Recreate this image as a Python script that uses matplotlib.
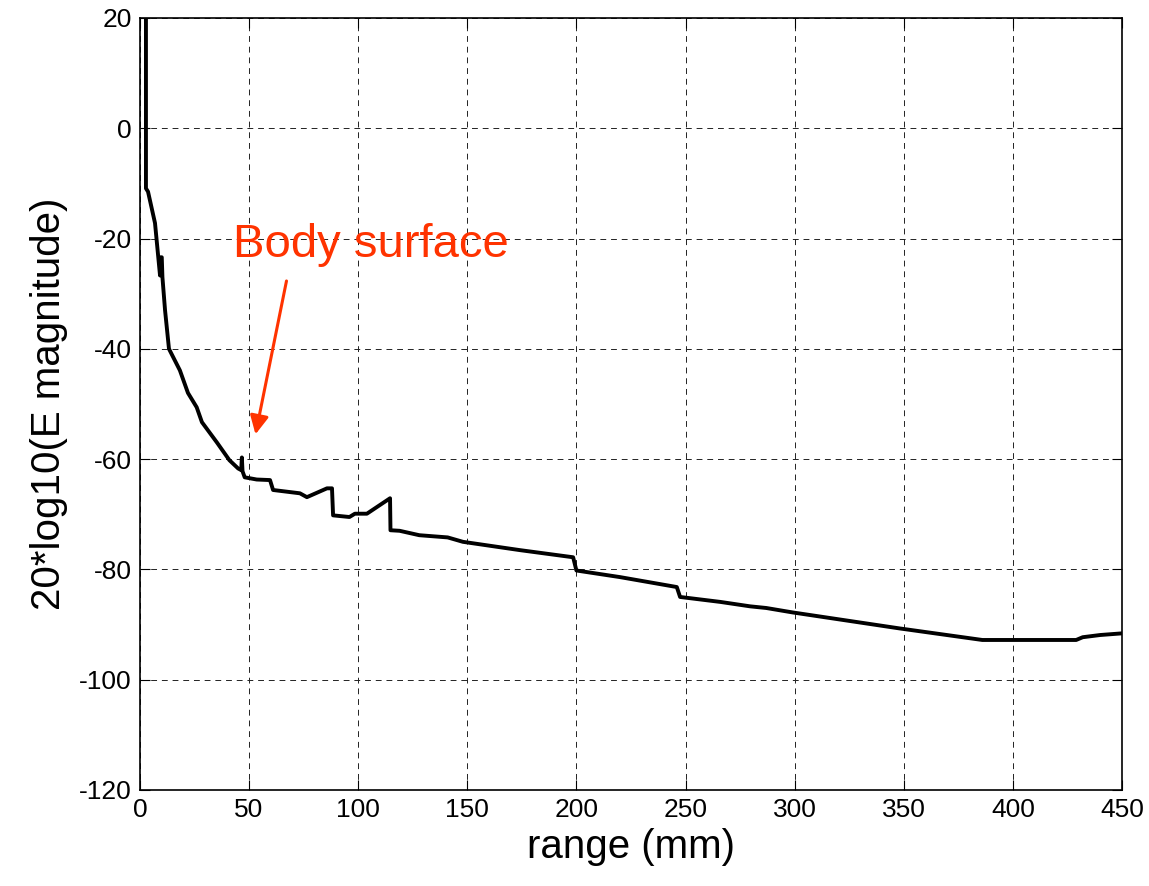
import matplotlib
matplotlib.use('Agg')
import matplotlib.pyplot as plt

plt.rcParams['font.family'] = ['Liberation Sans', 'DejaVu Sans']
plt.rcParams['axes.unicode_minus'] = False

# range (mm) and field level (dB)
range_mm = [2.75, 2.75, 3.7, 6.9, 9.2, 9.5, 10.0, 10.3, 11.5, 13.3, 18.3, 22, 26, 28.4,
            35.3, 41, 45, 46.4, 46.7, 47.0, 48, 53.5, 59.6, 61, 73.3, 76.5, 85.7, 88,
            88.5, 96, 98.5, 104, 114.6, 114.8, 119, 128, 141, 148, 174, 198.5, 200,
            220, 246, 247.5, 266, 279.6, 287, 299, 348, 386, 429, 432, 440, 450]
level_db = [30, -10.9, -11.5, -17.2, -26.7, -23.4, -23.4, -27, -33, -40, -43.9, -48, -50.6, -53.3,
            -57, -60.2, -61.7, -62, -59.7, -62.2, -63.3, -63.7, -63.8, -65.6, -66.2, -66.9, -65.3, -65.3,
            -70.2, -70.5, -69.9, -69.9, -67.1, -72.9, -73, -73.8, -74.2, -75, -76.5, -77.8, -80.2,
            -81.4, -83.2, -85, -85.9, -86.7, -87, -87.8, -90.7, -92.8, -92.8, -92.3, -91.9, -91.6]

xticks = [0, 50, 100, 150, 200, 250, 300, 350, 400, 450]
yticks = [-120, -100, -80, -60, -40, -20, 0, 20]

fig = plt.figure(figsize=(11.49, 8.86), dpi=100)
ax = fig.add_axes([0.1218, 0.1084, 0.8547, 0.8713])

ax.plot(range_mm, level_db, color='black', linewidth=2.8)

ax.set_xlim(0, 450)
ax.set_ylim(-120, 20)
ax.set_xticks(xticks)
ax.set_yticks(yticks)
ax.tick_params(direction='in', top=True, right=True, labelsize=19, length=7, pad=6)
ax.grid(True, color='#222222', linestyle=(0, (6, 5)), linewidth=0.7)
for s in ax.spines.values():
    s.set_linewidth(1.2)

ax.set_xlabel('range (mm)', fontsize=29, labelpad=4)
ax.set_ylabel('20*log10(E magnitude)', fontsize=29, labelpad=8)

red = '#FF3300'
ax.text(42.6, -21.2, 'Body surface', fontsize=34, color=red, va='center', ha='left')
ax.annotate('', xy=(52.7, -56), xytext=(67.4, -27.2),
            arrowprops=dict(arrowstyle='-|>', color=red, lw=2.2, mutation_scale=28))

fig.savefig('out.png', dpi=100)
